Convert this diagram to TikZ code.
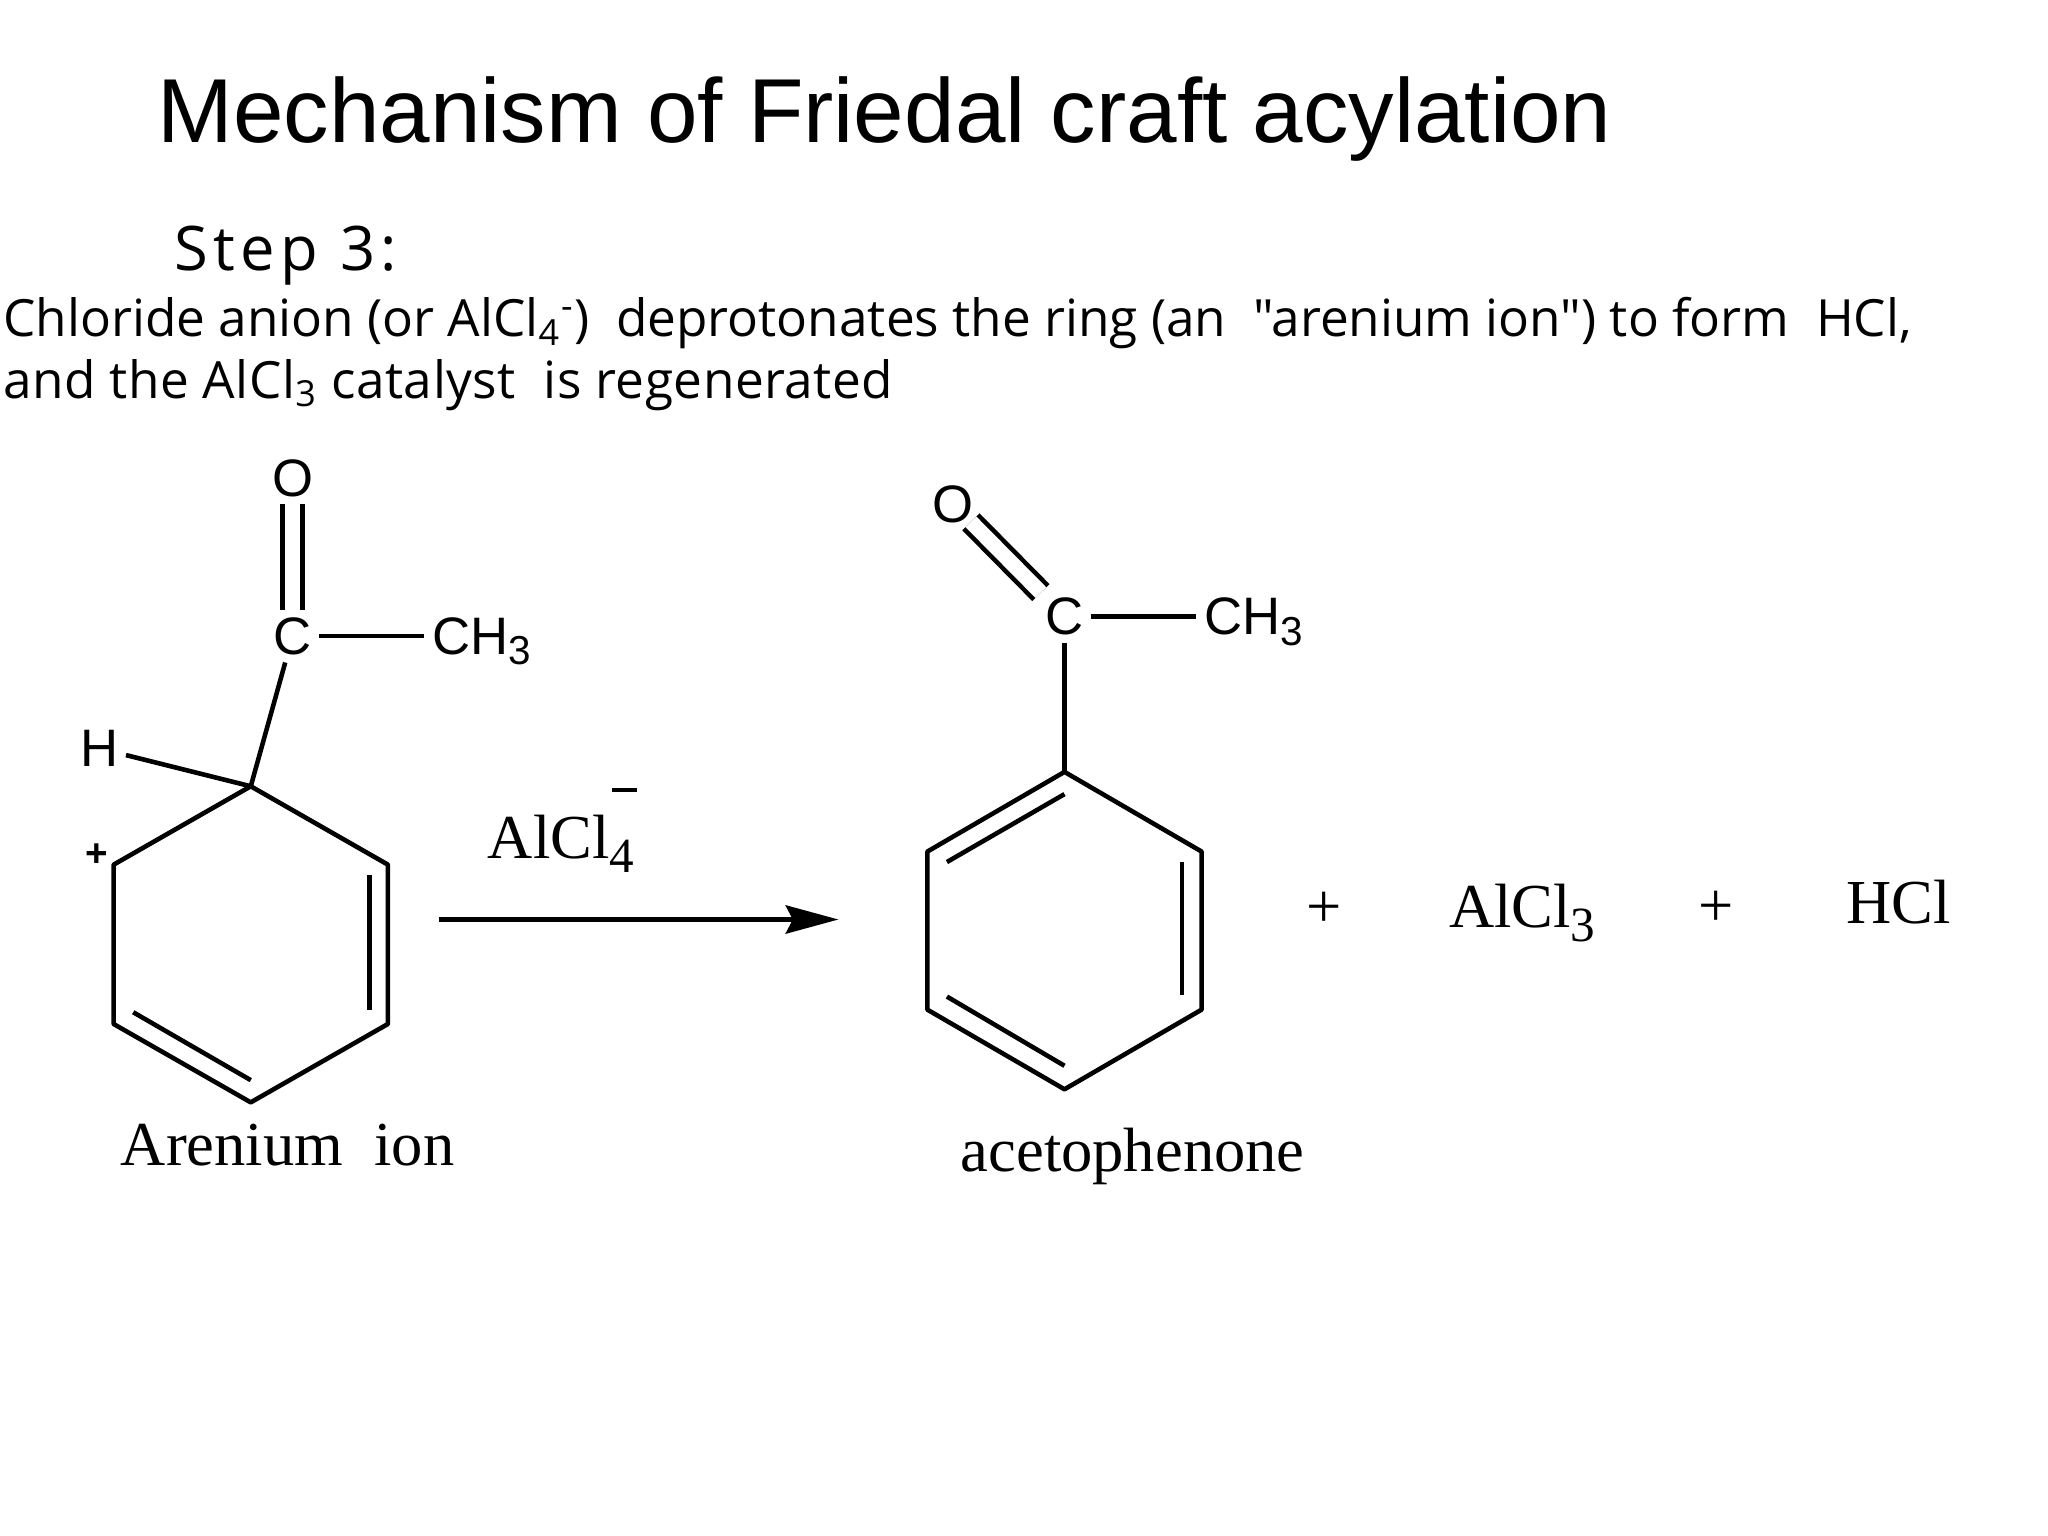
\documentclass[tikz,border=0pt]{standalone}
\usepackage{fontspec}
\setmainfont{Liberation Serif}
\setsansfont{Liberation Sans}
\newfontfamily\stepfont[LetterSpace=9]{Open Sans}
\newfontfamily\notefont{Open Sans}
\newfontfamily\noteBfont[LetterSpace=1]{Open Sans}
\usetikzlibrary{arrows.meta}
\newcommand{\atomsub}[1]{\raisebox{-3pt}{\fontsize{11.5}{12}\selectfont #1}}
\newcommand{\saltsub}[1]{\raisebox{-4pt}{\fontsize{14}{14}\selectfont #1}}
\tikzset{
	atom/.style={font=\sffamily\fontsize{15}{16}\selectfont,inner sep=2pt},
	serif/.style={font=\fontsize{17.8}{20}\selectfont,inner sep=0pt,anchor=base west},
	bond/.style={line width=1.3pt,black},
	note/.style={font=\notefont\fontsize{14.6}{18}\selectfont,inner sep=0pt,anchor=base west}
}
\begin{document}
\begin{tikzpicture}[x=0.013061cm,y=-0.013061cm]
\useasboundingbox (0,0) rectangle (1568,1176);
% texts on top
\node[inner sep=0pt,anchor=base west,font=\sffamily\fontsize{25.85}{30}\selectfont] (title) at (120,109) {Mechanism of Friedal craft acylation};
\node[inner sep=0pt,anchor=base west,font=\stepfont\fontsize{17.5}{18}\selectfont] (steplabel) at (133,207) {Step 3:};
\node[note] (noteA) at (2,258) {Chloride anion (or AlCl\textsubscript{4}\textsuperscript{-})\ \ deprotonates the ring (an\ \ "arenium ion") to form\ \ HCl,};
\node[note,font=\noteBfont\fontsize{14.6}{18}\selectfont] (noteB) at (2,305) {and the AlCl\textsubscript{3} catalyst\ \ is regenerated};
% arenium ion
\coordinate (a1) at (192,602);
\coordinate (a2) at (297,662);
\coordinate (a3) at (297,784);
\coordinate (a4) at (192,844);
\coordinate (a5) at (87,784);
\coordinate (a6) at (87,662);
\coordinate (a7) at (283,670);
\coordinate (a8) at (283,773);
\coordinate (a9) at (102,775);
\coordinate (a10) at (192,827);
\draw[bond,line join=round] (a1) -- (a2) -- (a3) -- (a4) -- (a5) -- (a6) -- cycle;
\draw[bond] (a7) -- (a8);
\draw[bond] (a9) -- (a10);
\node[atom] (O1) at (224,366) {O};
\node[atom] (C1) at (224,487) {C};
\node[atom,anchor=base west] (Me1) at (325,501) {CH\atomsub{3}};
\node[atom] (H1) at (76,573) {H};
\node[atom,font=\sffamily\bfseries\fontsize{11}{12}\selectfont] (plus1) at (74,655) {+};
\draw[bond,double,double distance=4.3pt] (O1) -- (C1);
\draw[bond] (C1.east) -- (C1.east -| Me1.west);
\draw[bond] (C1) -- (a1);
\draw[bond] (H1) -- (a1);
\node[serif] (ionlabel) at (92,892) {Arenium\ \ ion};
% arrow
\node[serif] (alcl) at (373,657) {AlCl\saltsub{4}};
\node[inner sep=0pt] (alclminus) at (478,605) {\rule{7pt}{1.3pt}};
\coordinate (arrowA) at (336,704);
\coordinate (arrowB) at (642,704);
\draw[line width=1.5pt,-{Stealth[length=15pt,width=8pt,inset=2pt]}] (arrowA) -- (arrowB);
% acetophenone
\coordinate (b1) at (815,591);
\coordinate (b2) at (920,652);
\coordinate (b3) at (920,773);
\coordinate (b4) at (815,834);
\coordinate (b5) at (710,773);
\coordinate (b6) at (710,652);
\coordinate (b7) at (905,660);
\coordinate (b8) at (905,762);
\coordinate (b9) at (725,763);
\coordinate (b10) at (815,816);
\coordinate (b11) at (725,660);
\coordinate (b12) at (815,608);
\draw[bond,line join=round] (b1) -- (b2) -- (b3) -- (b4) -- (b5) -- (b6) -- cycle;
\draw[bond] (b7) -- (b8);
\draw[bond] (b9) -- (b10);
\draw[bond] (b11) -- (b12);
\node[atom] (O2) at (730,386) {O};
\node[atom] (C2) at (815,472) {C};
\node[atom,anchor=base west] (Me2) at (916,486) {CH\atomsub{3}};
\draw[bond,double,double distance=4.3pt,shorten <=-3.5pt,shorten >=-1pt] (O2) -- (C2);
\draw[bond] (C2.east) -- (C2.east -| Me2.west);
\draw[bond] (C2) -- (b1);
\node[serif] (acetolabel) at (735,897) {acetophenone};
% products
\node[serif] (plusA) at (1000,710) {+};
\node[serif] (alclB) at (1109,710) {AlCl\saltsub{3}};
\node[serif] (plusB) at (1300,709) {+};
\node[serif] (hcl) at (1413,707) {HCl};
\end{tikzpicture}
\end{document}
